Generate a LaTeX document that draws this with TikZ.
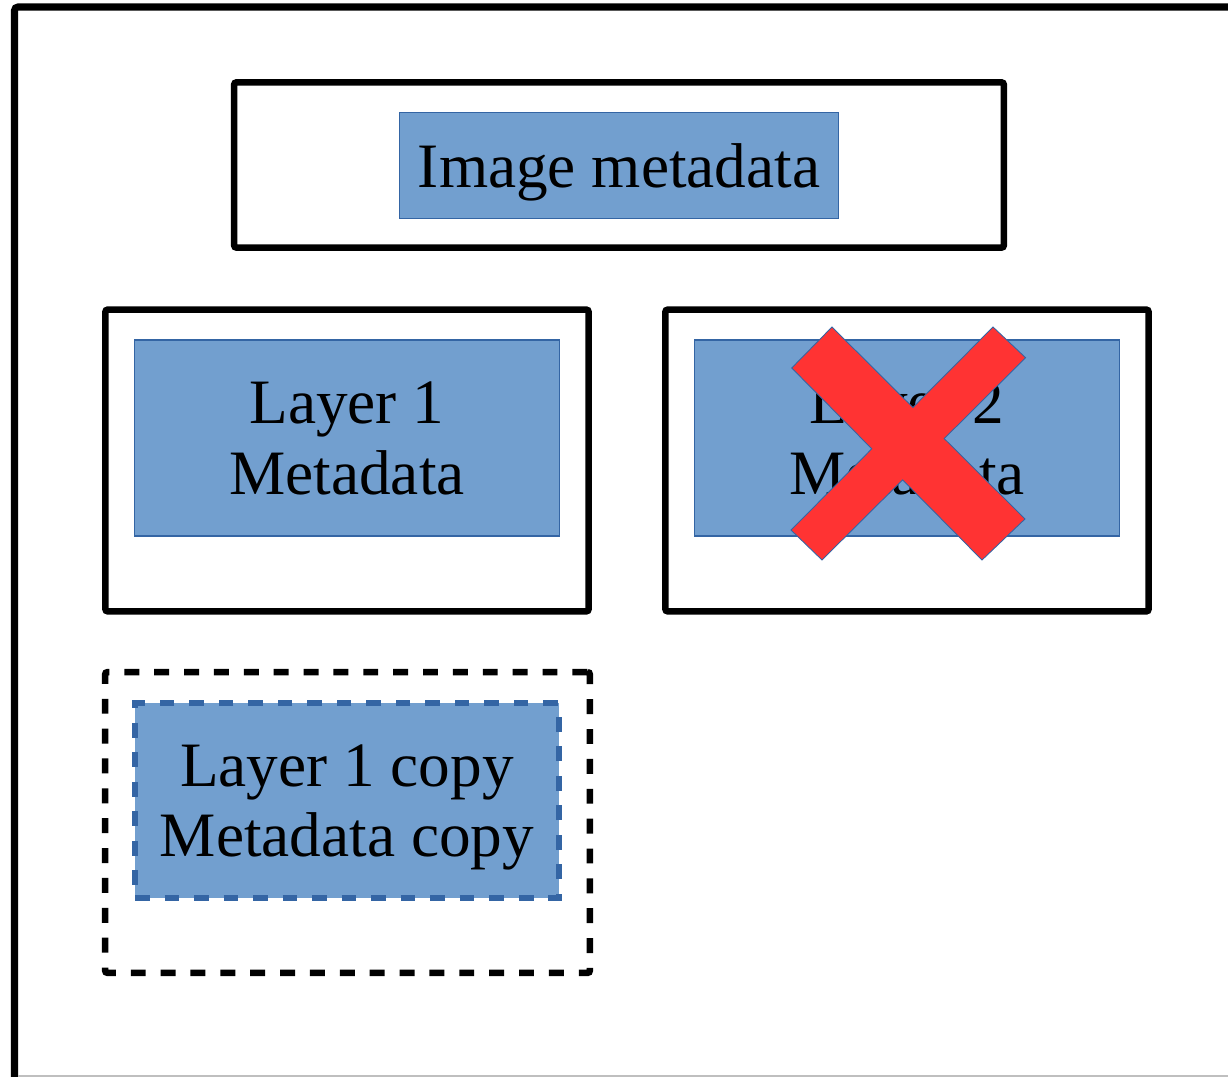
\documentclass[tikz,border=0pt]{standalone}
\usepackage{fontspec}
\setmainfont{Liberation Serif}
\usetikzlibrary{positioning}
\definecolor{metablue}{HTML}{729FCF}
\definecolor{metaedge}{HTML}{3465A4}
\definecolor{crossred}{HTML}{FF3333}
\tikzstyle{layerbox} = [rectangle, draw=black, line width=3.7pt, rounded corners=1.5pt]
\tikzstyle{copybox} = [layerbox, dash pattern=on 8.5pt off 8.5pt]
\tikzstyle{meta} = [rectangle, fill=metablue, draw=metaedge, line width=0.6pt, align=center, text depth=0pt, font=\fontsize{36}{40}\selectfont]
\tikzstyle{metacopy} = [meta, line width=3.2pt, dash pattern=on 8.4pt off 8.4pt]
\tikzstyle{cross} = [fill=crossred, draw=metaedge, line width=0.5pt]

\begin{document}
\begin{tikzpicture}[x=0.02cm, y=-0.02cm]
\useasboundingbox (0,0) rectangle (1228,1077);

% outer frame
\draw[line width=4pt, rounded corners=2pt] (14.5,1090) -- (14.5,7) -- (1240,7);
\draw[black!25, line width=1pt] (18,1076) -- (1240,1076);

\node [layerbox, minimum width=15.4cm, minimum height=3.31cm] (imgbox) at (619,165) {};
\node [meta, minimum width=8.77cm, minimum height=2.12cm] (imgmeta) at (619,165.5) {Image metadata};

\node [layerbox, minimum width=9.67cm, minimum height=6.04cm] (layer1box) at (347,460.5) {};
\node [meta, minimum width=8.49cm, minimum height=3.92cm] (layer1) at (347,438) {Layer 1\\Metadata};

\node [layerbox, minimum width=9.67cm, minimum height=6.04cm] (layer2box) at (907,460.5) {};
\node [meta, minimum width=8.49cm, minimum height=3.92cm] (layer2) at (907,438) {Layer 2\\Metadata};

\node [copybox, minimum width=9.7cm, minimum height=6.02cm] (copyframe) at (347.5,822.5) {};
\node [metacopy, minimum width=8.48cm, minimum height=3.9cm] (layer1copy) at (347,800.5) {Layer 1 copy\\Metadata copy};

% removed layer
\filldraw[cross] (832,327) -- (912.9,407.5) -- (993,327) -- (1025.6,357.7) -- (944.2,438.6)
  -- (1025,519) -- (982,560) -- (902.6,479.9) -- (822,560) -- (791,530)
  -- (871.8,448.8) -- (791.7,368) -- cycle;

\end{tikzpicture}
\end{document}
